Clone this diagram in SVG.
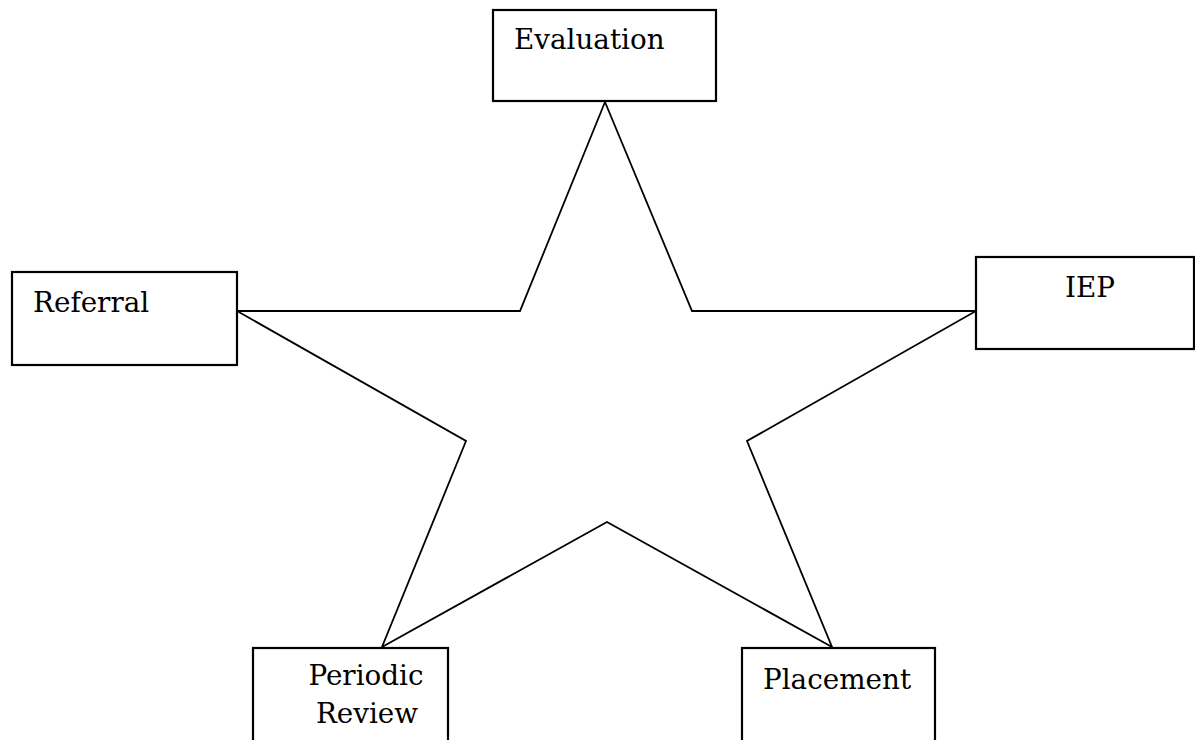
<svg xmlns="http://www.w3.org/2000/svg" width="1195" height="740" viewBox="0 0 1195 740">
<style>
.box{fill:#fff;stroke:#000;stroke-width:2.2}
.lbl{font-family:"DejaVu Serif","Liberation Serif",serif;font-size:27.8px;fill:#000}
.star{fill:none;stroke:#000;stroke-width:1.8;stroke-linejoin:miter}
</style>
<rect width="1195" height="740" fill="#fff"/>
<g id="connectors">
<polygon class="star" points="605,102 692,311 976,311 747,441 832,647 607,522 382,647 466,441 237,311 520,311"/>
</g>
<g id="evaluation">
<rect class="box" x="493" y="10" width="223" height="91"/>
<text class="lbl" x="514" y="49">Evaluation</text>
</g>
<g id="referral">
<rect class="box" x="12" y="272" width="225" height="93"/>
<text class="lbl" x="33" y="312">Referral</text>
</g>
<g id="iep">
<rect class="box" x="976" y="257" width="218" height="92"/>
<text class="lbl" x="1090" y="297" text-anchor="middle">IEP</text>
</g>
<g id="periodic-review">
<rect class="box" x="253" y="648" width="195" height="100"/>
<text class="lbl" x="366" y="685" text-anchor="middle">Periodic</text>
<text class="lbl" x="367" y="723" text-anchor="middle">Review</text>
</g>
<g id="placement">
<rect class="box" x="742" y="648" width="193" height="100"/>
<text class="lbl" x="763" y="689">Placement</text>
</g>
</svg>
